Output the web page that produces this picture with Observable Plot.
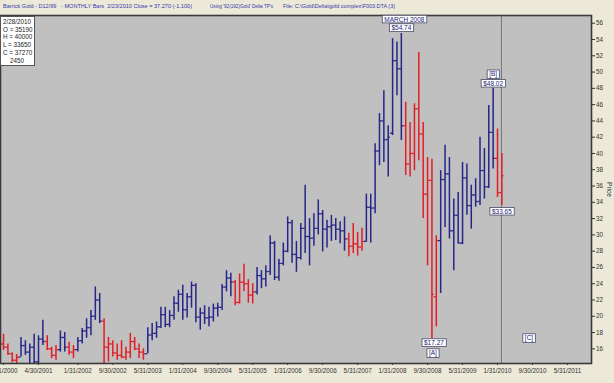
<!DOCTYPE html>
<html><head><meta charset="utf-8">
<script src="https://cdn.jsdelivr.net/npm/d3@7"></script>
<script src="https://cdn.jsdelivr.net/npm/@observablehq/plot@0.6"></script>
<style>
body{margin:0;background:#ECE9D8;font-family:Arial,"Liberation Sans",sans-serif;}
#wrap{position:relative;width:614px;height:383px;overflow:hidden;background:#ECE9D8;}
#chart{position:absolute;left:0;top:0;}
#box{position:absolute;left:0;top:16px;width:35px;height:50px;background:#fff;border:1px solid #555;font-size:6.3px;color:#222;line-height:7.7px;box-sizing:border-box;padding:1px 0 0 2px;}
#price{position:absolute;left:606px;top:182px;writing-mode:vertical-rl;font-size:6.6px;color:#333;}
</style></head>
<body>
<div id="wrap">
  <div id="chart"></div>
  <div id="box"></div>
  <div id="price"></div>
</div>
<script>
// ---- header / legend texts ----
const headerTexts = [
  "Barrick Gold - D12/99   - MONTHLY Bars  2/23/2010 Close = 37.270 (-1.100)",
  "Using '92(192)Gold' Delta TP's",
  "File: C:\\Gold\\Delta\\gold complex\\F003.DTA (3)"
];
const dataBoxLines = ["2/28/2010", "O = 35190", "H = 40000", "L = 33650", "C = 37270", "    2450"];
const yAxisTitle = "Price";

// ---- x axis (month index, 0 = Jan 2000) ----
const tickMonths = [7,15,24,32,40,48,56,64,72,80,88,96,104,112,120,128,136];
const tickLabels = ["8/31/2000","4/30/2001","1/31/2002","9/30/2002","5/31/2003","1/31/2004","9/30/2004","5/31/2005","1/31/2006","9/30/2006","5/31/2007","1/31/2008","9/30/2008","5/31/2009","1/31/2010","9/30/2010","5/31/2011"];
const yTicks = [16,18,20,22,24,26,28,30,32,34,36,38,40,42,44,46,48,50,52,54,56];

// ---- monthly bars: Aug 2000 (7) .. Feb 2010 (121) ----
const months = d3.range(7, 122);
const opens = [
16.6,16.2,15.4,14.6,15.0,16.4,15.6,16.2,14.4,17.2,16.9,16.0,15.2,15.9,17.4,16.2,15.6,15.9,17.0,18.2,18.6,20.0,22.0,
19.4,16.2,16.6,15.5,15.2,15.0,15.6,16.9,16.0,15.6,
15.4,17.7,17.9,18.7,20.2,19.0,20.1,21.6,22.7,20.8,22.4,23.8,19.9,20.4,19.8,19.9,21.0,21.1,23.6,24.7,
24.2,21.7,24.2,24.0,22.6,
23.0,25.0,24.6,25.5,29.0,24.8,26.5,28.0,31.5,27.6,27.2,30.8,29.8,29.6,30.8,32.6,30.7,31.0,31.2,30.7,30.5,
29.5,28.6,28.9,28.5,
29.2,33.4,33.3,40.3,44.0,41.7,42.5,51.4,50.4,
43.4,38.7,40.0,45.5,42.4,35.0,36.7,22.4,
29.3,36.8,37.5,30.5,32.4,29.0,37.0,33.6,34.9,34.1,37.9,35.9,42.6,
39.4,35.19];
const highs = [
17.8,16.6,15.5,15.3,17.4,17.0,16.6,17.8,17.6,19.5,17.6,16.2,16.4,18.2,18.0,16.8,16.4,17.4,18.5,19.7,20.7,23.6,22.8,
19.7,17.4,17.0,16.6,17.0,16.2,17.9,17.4,16.6,16.0,
18.6,19.1,19.3,21.1,21.1,20.7,22.4,23.2,23.8,22.8,24.2,24.0,21.0,21.3,21.1,21.5,21.6,23.9,25.6,25.3,
24.4,25.2,26.4,24.5,24.0,
26.0,25.6,26.2,29.9,29.2,27.0,29.0,32.2,31.8,29.2,31.4,36.1,32.0,32.6,34.3,33.0,31.8,32.4,32.0,31.6,32.2,
30.2,31.4,30.3,30.8,
35.0,35.0,41.2,44.9,47.7,43.4,54.1,53.7,54.74,
46.3,43.8,46.1,52.4,43.8,39.5,39.3,29.9,
37.9,41.0,39.5,34.4,35.2,38.9,38.7,36.1,36.9,42.0,40.6,45.9,48.02,
43.0,40.0];
const lows = [
15.8,15.2,14.3,13.9,15.0,15.2,13.9,13.8,13.9,16.4,15.8,14.8,14.6,15.6,15.6,15.2,14.8,15.6,16.6,17.3,17.6,19.5,19.1,
13.9,14.4,15.0,14.6,14.8,14.6,14.8,15.8,14.8,14.6,
15.4,17.0,17.3,18.5,18.6,18.6,19.5,20.5,19.5,19.8,21.0,19.2,18.3,19.0,18.7,19.3,19.9,20.7,23.0,22.4,
21.3,21.5,23.0,21.6,21.5,
22.6,23.4,23.6,25.0,24.4,24.3,26.2,27.8,26.5,25.4,26.9,27.7,26.2,28.6,30.0,27.9,28.4,29.2,29.3,28.9,28.0,
27.3,27.7,27.4,28.0,
29.1,29.0,32.6,38.5,38.9,37.1,42.2,47.1,41.6,
37.3,37.1,37.9,39.1,32.0,26.2,17.27,18.7,
22.8,30.9,29.5,25.6,28.9,28.8,32.4,30.7,33.4,33.6,34.4,35.7,38.1,
34.6,33.65];
const closes = [
16.2,15.4,14.6,14.9,16.4,15.6,16.2,14.4,17.2,16.9,16.0,15.2,15.9,17.4,16.2,15.6,15.9,17.0,18.2,18.6,20.0,22.0,19.4,
16.2,16.6,15.5,15.2,15.0,15.6,16.9,16.0,15.6,15.4,
17.7,17.9,18.7,20.2,19.0,20.1,21.6,22.7,20.8,22.4,23.8,19.9,20.4,19.8,19.9,21.0,21.1,23.6,24.7,24.2,
21.7,24.2,24.0,22.6,23.0,
25.0,24.6,25.5,29.0,24.8,26.5,28.0,31.5,27.6,27.2,30.8,29.8,29.6,30.8,32.6,30.7,31.0,31.2,30.7,30.5,29.5,
28.6,28.9,28.5,29.2,
33.4,33.3,40.3,44.0,41.7,42.0,51.4,50.4,43.4,
38.7,40.0,45.5,42.4,35.0,36.7,22.7,29.3,
36.8,37.5,30.5,32.4,29.0,37.0,33.6,34.9,34.1,37.9,35.9,42.6,39.4,
35.19,37.27];
const trends = [
"down","down","down","down","up","up","up","up","up","up","down","down","down","up","up","down","down","up","up","up","up","up","up",
"down","down","down","down","down","down","down","down","down","down",
"up","up","up","up","up","up","up","up","up","up","up","up","up","up","up","up","up","up","up","up",
"down","down","down","down","down",
"up","up","up","up","up","up","up","up","up","up","up","up","up","up","up","up","up","up","up","up","up",
"down","down","down","down",
"up","up","up","up","up","up","up","up","up",
"down","down","down","down","down","down","down","down",
"up","up","up","up","up","up","up","up","up","up","up","up","up",
"down","down"];

// ---- annotations (anchored to data) ----
const annLabels = ["MARCH 2008","$54.74","[B]","$48.02","$17.27","[A]","$33.65","[C]"];
const annMonths = [98,98,119,119,105,105,121,127.2];
const annPrices = [54.74,54.74,48.02,48.02,17.27,17.27,33.65,17.33];
const currentMonth = 120.9;

// ---- styling (offsets / header placement in px) ----
const annOffsets = [[3,-14],[0,-5.5],[0,-14],[0,-4.5],[2,4.5],[1,14.5],[0,6.5],[0,0]];
const headerLayout = [[3,189],[210,63],[283,112]]; // [left, width]

const bars = months.map((m,i)=>({m, open:opens[i], high:highs[i], low:lows[i], close:closes[i], trend:trends[i]}));
const anns = annLabels.map((t,i)=>({label:t, m:annMonths[i], price:annPrices[i]}));

const chart = Plot.plot({
  width:614, height:383,
  marginTop:15, marginBottom:20, marginLeft:0, marginRight:23,
  style:{background:"transparent", fontFamily:"Arial, 'Liberation Sans', sans-serif", fontSize:"6.3px", color:"#333"},
  x:{type:"linear", domain:[6.306,141.5], ticks:tickMonths, tickFormat:m=>tickLabels[tickMonths.indexOf(m)], tickSize:2, tickPadding:3, label:null},
  y:{domain:[14.2,56.95], ticks:yTicks, tickSize:3, tickPadding:1.5, label:null, axis:"right", tickFormat:d=>d},
  color:{domain:["up","down"], range:["#25258a","#e41d25"]},
  marks:[
    Plot.frame({fill:"#c0c0c0"}),
    Plot.ruleX([currentMonth], {stroke:"#747474", strokeWidth:1}),
    Plot.ruleX(bars, {x:"m", y1:"low", y2:"high", stroke:"trend", strokeWidth:1.5, clip:true}),
    Plot.ruleY(bars, {y:"open", x1:d=>d.m-0.5, x2:"m", stroke:"trend", strokeWidth:1.3, clip:true}),
    Plot.ruleY(bars, {y:"close", x1:"m", x2:d=>d.m+0.5, stroke:"trend", strokeWidth:1.3, clip:true}),
    Plot.frame({stroke:"#3a3a3a", strokeWidth:1.6}),
    ...anns.map((a,i)=>Plot.text([a], {x:"m", y:"price", text:"label", dx:annOffsets[i][0], dy:annOffsets[i][1], fill:"#1c1c78", fontSize:6.5}))
  ]
});
document.getElementById("chart").appendChild(chart);

// white boxes behind annotation labels
chart.querySelectorAll('g[aria-label="text"] text').forEach(t=>{
  const b = t.getBBox();
  const r = document.createElementNS("http://www.w3.org/2000/svg","rect");
  r.setAttribute("x", b.x-2); r.setAttribute("y", b.y-0.3);
  r.setAttribute("width", b.width+4); r.setAttribute("height", b.height+0.6);
  r.setAttribute("fill","#fff"); r.setAttribute("stroke","#4a4a66"); r.setAttribute("stroke-width","0.8");
  if (t.getAttribute("transform")) r.setAttribute("transform", t.getAttribute("transform"));
  t.parentNode.insertBefore(r, t);
});

// header line (fitted to reference widths)
const NS = "http://www.w3.org/2000/svg";
headerTexts.forEach((s,i)=>{
  const t = document.createElementNS(NS,"text");
  t.setAttribute("x", headerLayout[i][0]); t.setAttribute("y", 7.5);
  t.setAttribute("text-anchor", "start");
  t.setAttribute("textLength", headerLayout[i][1]);
  t.setAttribute("lengthAdjust", "spacingAndGlyphs");
  t.setAttribute("font-size", "5.5"); t.setAttribute("fill", "#3636b0");
  t.setAttribute("font-family", "Arial, 'Liberation Sans', sans-serif");
  t.textContent = s;
  chart.appendChild(t);
});

document.getElementById("box").innerHTML = dataBoxLines.map(s=>`<div style="white-space:pre">${s}</div>`).join("");
document.getElementById("price").textContent = yAxisTitle;
</script>
</body></html>
